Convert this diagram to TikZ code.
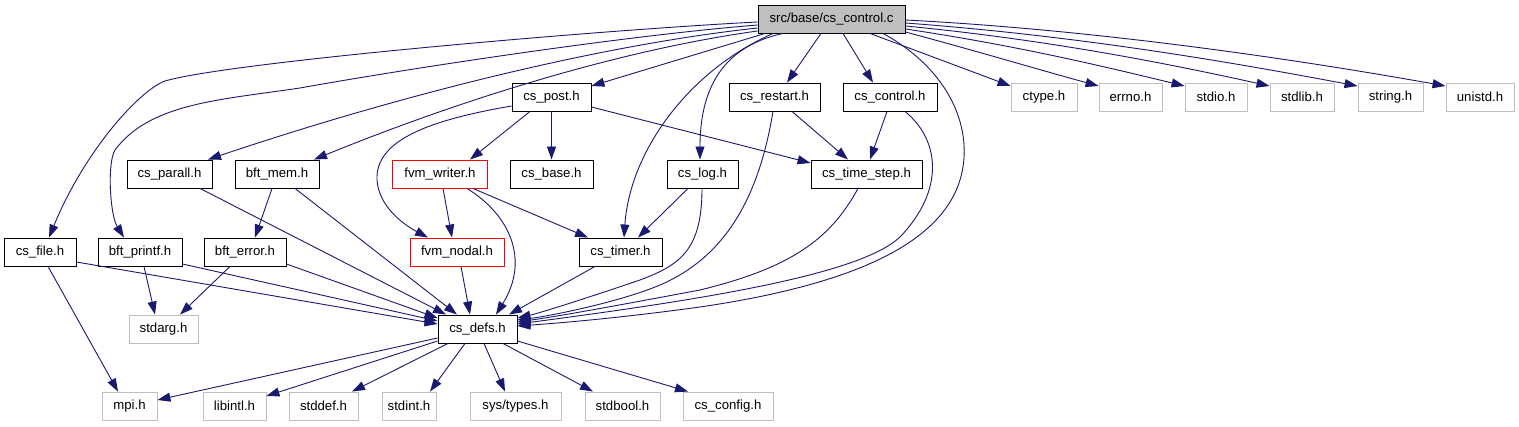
\documentclass[tikz,border=0pt]{standalone}
\usepackage{fontspec}
\setmainfont{Liberation Sans}
\usetikzlibrary{arrows.meta}
\definecolor{edgeblue}{HTML}{191970}
\definecolor{sysgray}{HTML}{BFBFBF}
\definecolor{rootfill}{HTML}{BFBFBF}
\definecolor{redbox}{HTML}{FF0000}
\begin{document}
\begin{tikzpicture}[x=1pt,y=-1pt,
  box/.style={draw=black,line width=0.9pt,minimum height=28pt,inner xsep=1pt,inner ysep=0pt,
    font=\fontsize{13.2pt}{15pt}\selectfont,text=black},
  sys/.style={box,draw=sysgray},
  redh/.style={box,draw=redbox},
  rootbox/.style={box,fill=rootfill},
  e/.style={draw=edgeblue,line width=0.9pt,-{Triangle[length=13pt,width=9pt]}}]
\useasboundingbox[fill=white] (0,0) rectangle (1519,427);
% nodes
\node[rootbox,minimum width=147pt] (root) at (831.5,19) {src/base/cs\_control.c};
\node[box,minimum width=79pt] (post) at (551.5,97) {cs\_post.h};
\node[box,minimum width=91pt] (restart) at (774.5,97) {cs\_restart.h};
\node[box,minimum width=94pt] (control) at (890,97) {cs\_control.h};
\node[sys,minimum width=66pt] (ctype) at (1044,97) {ctype.h};
\node[sys,minimum width=63pt] (errno) at (1130.5,97) {errno.h};
\node[sys,minimum width=62pt] (stdio) at (1216,97) {stdio.h};
\node[sys,minimum width=64pt] (stdlib) at (1302,97) {stdlib.h};
\node[sys,minimum width=65pt] (string) at (1390.5,97) {string.h};
\node[sys,minimum width=68pt] (unistd) at (1480,97) {unistd.h};
\node[box,minimum width=85pt] (parall) at (169.5,174) {cs\_parall.h};
\node[box,minimum width=84pt] (mem) at (277,174) {bft\_mem.h};
\node[redh,minimum width=95pt] (writer) at (440,174) {fvm\_writer.h};
\node[box,minimum width=83pt] (base) at (551.5,174) {cs\_base.h};
\node[box,minimum width=71pt] (log) at (702.5,174) {cs\_log.h};
\node[box,minimum width=111pt] (timestep) at (866.5,174) {cs\_time\_step.h};
\node[box,minimum width=72pt] (file) at (40,252) {cs\_file.h};
\node[box,minimum width=84pt] (printf) at (140,252) {bft\_printf.h};
\node[box,minimum width=82pt] (error) at (245,252) {bft\_error.h};
\node[redh,minimum width=94pt] (nodal) at (457,252) {fvm\_nodal.h};
\node[box,minimum width=83pt] (timer) at (620.5,252) {cs\_timer.h};
\node[sys,minimum width=69pt] (stdarg) at (163.5,329) {stdarg.h};
\node[box,minimum width=79pt] (defs) at (477.5,329) {cs\_defs.h};
\node[sys,minimum width=55pt] (mpi) at (129.5,406) {mpi.h};
\node[sys,minimum width=63pt] (libintl) at (234.5,406) {libintl.h};
\node[sys,minimum width=69pt] (stddef) at (323.5,406) {stddef.h};
\node[sys,minimum width=54pt] (stdint) at (409,406) {stdint.h};
\node[sys,minimum width=91pt] (systypes) at (515.5,406) {sys/types.h};
\node[sys,minimum width=75pt] (stdbool) at (622.5,406) {stdbool.h};
\node[sys,minimum width=90pt] (config) at (728,406) {cs\_config.h};
% edges from root
\draw[e] (root.west |- 0,22) .. controls (600,30) and (230,62) .. (165,81) .. controls (140,90) and (85,150) .. (file.north -| 49,0);
\draw[e] (root.west |- 0,25) .. controls (620,36) and (400,70) .. (300,88) .. controls (220,100) and (150,103) .. (115,150) .. controls (107,163) and (110,215) .. (printf.north -| 124,0);
\draw[e] (root.west |- 0,28) .. controls (600,45) and (400,95) .. (parall.north -| 208,0);
\draw[e] (root.west |- 0,31) .. controls (620,50) and (460,100) .. (mem.north -| 314,0);
\draw[e] (root.south -| 765,0) -- (post.east |- 0,86);
\draw[e] (root.south -| 773,0) .. controls (690,70) and (630,150) .. (timer.north -| 624,0);
\draw[e] (root.south -| 783,0) .. controls (730,45) and (700,80) .. (log.north -| 700,0);
\draw[e] (root.south -| 821,0) -- (restart.north -| 787,0);
\draw[e] (root.south -| 843,0) -- (control.north -| 873,0);
\draw[e] (root.south -| 883,0) .. controls (950,70) and (975,130) .. (960,180) .. controls (940,245) and (850,285) .. (700,307) .. controls (620,318) and (560,323) .. (defs.east |- 0,326);
\draw[e] (root.south -| 870,0) -- (ctype.west |- 0,86);
\draw[e] (root.east |- 0,32) .. controls (980,52) and (1040,70) .. (errno.west |- 0,86);
\draw[e] (root.east |- 0,29) .. controls (1020,46) and (1110,68) .. (stdio.west |- 0,86);
\draw[e] (root.east |- 0,26) .. controls (1050,40) and (1170,64) .. (stdlib.west |- 0,86);
\draw[e] (root.east |- 0,23) .. controls (1080,36) and (1230,62) .. (string.west |- 0,86);
\draw[e] (root.east |- 0,20) .. controls (1100,30) and (1300,60) .. (unistd.west |- 0,86);
% cs_post
\draw[e] (post.south) -- (base.north);
\draw[e] (post.east |- 0,107) -- (timestep.west |- 0,163);
\draw[e] (post.south -| 530,0) -- (writer.north -| 470,0);
\draw[e] (post.west |- 0,106) .. controls (430,120) and (375,140) .. (377,180) .. controls (379,210) and (410,228) .. (nodal.north -| 428,0);
% fvm_writer
\draw[e] (writer.south -| 443,0) -- (nodal.north -| 452,0);
\draw[e] (writer.south -| 473,0) -- (timer.north -| 588,0);
\draw[e] (writer.south -| 467,0) .. controls (510,215) and (530,260) .. (defs.north -| 496,0);
\draw[e] (nodal.south -| 461,0) -- (defs.north -| 470,0);
% cs_log, cs_timer
\draw[e] (log.south -| 688,0) -- (timer.north -| 638,0);
\draw[e] (log.south -| 702,0) .. controls (702,250) and (680,265) .. (640,280) .. controls (590,297) and (540,313) .. (defs.east |- 0,318);
\draw[e] (timer.south -| 595,0) -- (defs.north -| 509,0);
% cs_restart, cs_control, cs_time_step
\draw[e] (restart.south -| 792,0) -- (timestep.north -| 848,0);
\draw[e] (restart.south -| 773,0) .. controls (760,190) and (730,255) .. (660,285) .. controls (620,302) and (550,316) .. (defs.east |- 0,320);
\draw[e] (control.south -| 887,0) -- (timestep.north -| 870,0);
\draw[e] (control.south -| 905,0) .. controls (940,140) and (945,190) .. (900,237) .. controls (860,275) and (700,300) .. (defs.east |- 0,324);
\draw[e] (timestep.south -| 858,0) .. controls (830,240) and (790,268) .. (700,290) .. controls (620,305) and (560,316) .. (defs.east |- 0,322);
% left part
\draw[e] (parall.south -| 200,0) -- (defs.north -| 446,0);
\draw[e] (mem.south -| 272,0) -- (error.north -| 255,0);
\draw[e] (mem.south -| 295,0) -- (defs.north -| 457,0);
\draw[e] (printf.south -| 144,0) -- (stdarg.north -| 155,0);
\draw[e] (printf.east |- 0,264) -- (defs.west |- 0,321);
\draw[e] (error.south -| 230,0) -- (stdarg.north -| 180,0);
\draw[e] (error.east |- 0,264) -- (defs.west |- 0,318);
\draw[e] (file.south -| 48,0) -- (mpi.north -| 118,0);
\draw[e] (file.east |- 0,262) -- (defs.west |- 0,324);
% cs_defs to system headers
\draw[e] (defs.west |- 0,338) -- (mpi.east |- 0,400);
\draw[e] (defs.west |- 0,341) -- (libintl.east |- 0,396);
\draw[e] (defs.south -| 448,0) -- (stddef.north -| 352,0);
\draw[e] (defs.south -| 465,0) -- (stdint.north -| 430,0);
\draw[e] (defs.south -| 484,0) -- (systypes.north -| 505,0);
\draw[e] (defs.south -| 503,0) -- (stdbool.north -| 593,0);
\draw[e] (defs.east |- 0,341) -- (config.north -| 688,0);
\end{tikzpicture}
\end{document}
